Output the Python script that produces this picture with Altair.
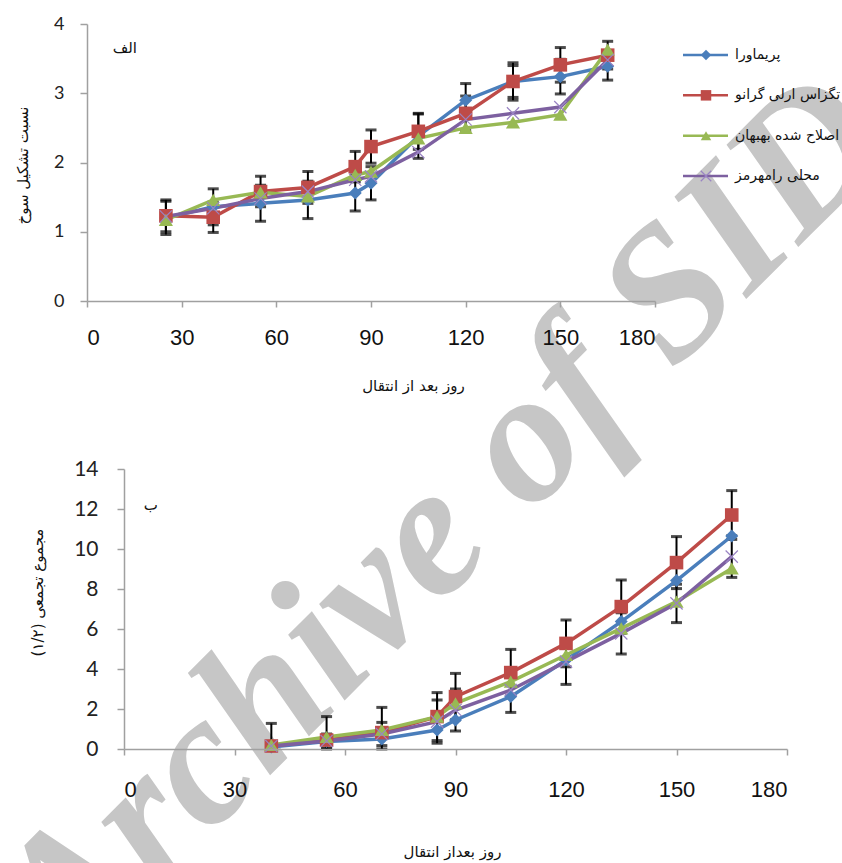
import altair as alt
import pandas as pd

# ---- series -------------------------------------------------------------
varieties = ["پریماورا", "تگزاس ارلی گرانو", "اصلاح شده بهبهان", "محلی رامهرمز"]
palette = ["#4a7ebb", "#be4b48", "#98b954", "#7d60a0"]
filled_shapes = ["diamond", "square", "triangle-up"]
x_mark_path = "M-1,-1L1,1M1,-1L-1,1"

# panel (الف): bulb formation ratio
days_a = [25, 40, 55, 70, 85, 90, 105, 120, 135, 150, 165]
primavera_a = [1.20, 1.36, 1.41, 1.46, 1.56, 1.70, 2.38, 2.90, 3.17, 3.24, 3.39]
texas_a = [1.23, 1.21, 1.58, 1.64, 1.94, 2.23, 2.45, 2.71, 3.17, 3.41, 3.55]
behbahan_a = [1.17, 1.46, 1.57, 1.51, 1.82, 1.87, 2.35, 2.50, 2.58, 2.69, 3.63]
ramhormoz_a = [1.22, 1.34, 1.48, 1.58, 1.75, 1.80, 2.15, 2.62, 2.71, 2.80, 3.48]
primavera_err_a = [0.24, 0.26, 0.26, 0.27, 0.26, 0.24, 0.32, 0.24, 0.23, 0.25, 0.20]
texas_err_a = [0.23, 0.22, 0.22, 0.23, 0.22, 0.24, 0.26, 0.25, 0.27, 0.25, 0.20]

# panel (ب): cumulative sum
days_b = [40, 55, 70, 85, 90, 105, 120, 135, 150, 165]
primavera_b = [0.10, 0.38, 0.50, 0.95, 1.45, 2.62, 4.45, 6.37, 8.42, 10.65]
texas_b = [0.15, 0.45, 0.82, 1.62, 2.62, 3.82, 5.28, 7.12, 9.32, 11.70]
behbahan_b = [0.20, 0.60, 0.95, 1.62, 2.28, 3.37, 4.70, 6.03, 7.37, 9.03]
ramhormoz_b = [0.15, 0.40, 0.75, 1.37, 1.95, 2.95, 4.37, 5.78, 7.28, 9.62]
texas_err_b = [1.13, 1.17, 1.26, 1.20, 1.16, 1.16, 1.17, 1.33, 1.30, 1.22]
ramhormoz_err_b = [0.15, 0.35, 0.58, 1.08, 1.05, 1.12, 1.14, 1.03, 0.96, 1.04]

x_ticks = [0, 30, 60, 90, 120, 150, 180]
y_ticks_a = [0, 1, 2, 3, 4]
y_ticks_b = [0, 2, 4, 6, 8, 10, 12, 14]

x_title_a = "روز بعد از انتقال"
y_title_a = "نسبت تشکیل سوخ"
x_title_b = "روز بعداز انتقال"
y_title_b = "(۱/۲) مجموع تجمعی"
panel_label_a = "الف"
panel_label_b = "ب"
watermark = "Archive of SID"

ARABIC_FONT = "DejaVu Sans"


def long_frame(days, columns):
    rows = []
    for name, vals in zip(varieties, columns):
        for d, v in zip(days, vals):
            rows.append({"day": d, "value": v, "variety": name})
    return pd.DataFrame(rows)


def error_frames(days, pairs, floor):
    bars, caps = [], []
    for vals, errs in pairs:
        for d, v, e in zip(days, vals, errs):
            lo, hi = max(floor, v - e), v + e
            bars.append({"day": d, "lo": lo, "hi": hi})
            caps.append({"day": d, "cap": lo})
            caps.append({"day": d, "cap": hi})
    return pd.DataFrame(bars), pd.DataFrame(caps)


color_enc = alt.Color("variety:N", scale=alt.Scale(domain=varieties, range=palette), legend=None)


def panel(df, bars, caps, note, x_range, y_domain, y_range, y_ticks,
          x_offset, y_offset, x_title, y_title, x_title_pos, y_title_pos,
          y_label_size, x_label_pad, y_label_pad):
    x_scale = alt.Scale(domain=[0, 180], range=x_range, nice=False, zero=False)
    y_scale = alt.Scale(domain=y_domain, range=y_range, nice=False, zero=False)
    x_axis = alt.Axis(
        orient="bottom", offset=x_offset, values=x_ticks, grid=False,
        tickSize=6, labelPadding=x_label_pad, labelFont="Liberation Sans",
        labelFontSize=22, labelColor="#111", title=x_title,
        titleFont=ARABIC_FONT, titleFontSize=15, titleFontWeight="normal",
        titleX=x_title_pos[0], titleY=x_title_pos[1], titleAlign="center",
        titleBaseline="middle", titleColor="#111", zindex=1,
    )
    y_axis = alt.Axis(
        orient="left", offset=y_offset, values=y_ticks, grid=False,
        tickSize=7, labelPadding=y_label_pad, labelFont="Lato",
        labelFontSize=y_label_size, labelColor="#222", title=y_title,
        titleFont=ARABIC_FONT, titleFontSize=15, titleFontWeight="normal",
        titleX=y_title_pos[0], titleY=y_title_pos[1], titleAngle=270,
        titleAlign="center", titleBaseline="middle", titleColor="#111", zindex=1,
    )

    def X():
        return alt.X("day:Q", scale=x_scale, axis=x_axis)

    def Y(field):
        return alt.Y(field, scale=y_scale, axis=y_axis)

    rules = alt.Chart(bars).mark_rule(color="#000", strokeWidth=2).encode(
        x=X(), y=Y("lo:Q"), y2="hi:Q")
    ticks = alt.Chart(caps).mark_tick(
        orient="horizontal", color="#000", size=11, thickness=3).encode(
        x=X(), y=Y("cap:Q"))
    lines = alt.Chart(df).mark_line(strokeWidth=3.5).encode(
        x=X(), y=Y("value:Q"), color=color_enc, detail="variety:N")
    solid = alt.Chart(df).transform_filter(
        alt.FieldOneOfPredicate(field="variety", oneOf=varieties[:3])
    ).mark_point(filled=True, opacity=1).encode(
        x=X(), y=Y("value:Q"), color=color_enc,
        shape=alt.Shape("variety:N", scale=alt.Scale(domain=varieties[:3], range=filled_shapes), legend=None),
        size=alt.Size("variety:N", scale=alt.Scale(domain=varieties[:3], range=[170, 200, 190]), legend=None),
    )
    crosses = alt.Chart(df).transform_filter(
        alt.FieldEqualPredicate(field="variety", equal=varieties[3])
    ).mark_point(shape=x_mark_path, filled=False, size=150, strokeWidth=1.2,
                 color="#9a84c4", opacity=1).encode(x=X(), y=Y("value:Q"))
    label = alt.Chart(note).mark_text(
        font=ARABIC_FONT, fontSize=15, color="#111").encode(
        x=X(), y=Y("value:Q"), text="text:N")
    return alt.layer(rules, ticks, lines, solid, crosses, label)


df_a = long_frame(days_a, [primavera_a, texas_a, behbahan_a, ramhormoz_a])
bars_a, caps_a = error_frames(days_a, [(texas_a, texas_err_a), (primavera_a, primavera_err_a)], 0)
df_b = long_frame(days_b, [primavera_b, texas_b, behbahan_b, ramhormoz_b])
bars_b, caps_b = error_frames(days_b, [(texas_b, texas_err_b), (ramhormoz_b, ramhormoz_err_b)], 0)

note_a = pd.DataFrame({"day": [12], "value": [3.65], "text": [panel_label_a]})
note_b = pd.DataFrame({"day": [7.3], "value": [12.2], "text": [panel_label_b]})

top = panel(df_a, bars_a, caps_a, note_a,
            x_range=[87, 655], y_domain=[0, 4], y_range=[301, 24], y_ticks=y_ticks_a,
            x_offset=301 - 863, y_offset=-87, x_title=x_title_a, y_title=y_title_a,
            x_title_pos=(413, 84), y_title_pos=(-65, 165), y_label_size=18,
            x_label_pad=20, y_label_pad=16)

bottom = panel(df_b, bars_b, caps_b, note_b,
               x_range=[124, 787], y_domain=[0, 14], y_range=[749, 469], y_ticks=y_ticks_b,
               x_offset=749 - 863, y_offset=-124, x_title=x_title_b, y_title=y_title_b,
               x_title_pos=(452, 102), y_title_pos=(-87, 592), y_label_size=21,
               x_label_pad=24, y_label_pad=19)

# ---- key for panel (الف) -------------------------------------------------
key_df = pd.DataFrame({"variety": varieties})
key_y = alt.Y("variety:N", scale=alt.Scale(type="point", domain=varieties, range=[55, 176], padding=0), axis=None)
key_lines = alt.Chart(key_df).mark_rule(strokeWidth=2.5).encode(
    x=alt.value(683), x2=alt.value(728), y=key_y, color=color_enc)
key_solid = alt.Chart(key_df).transform_filter(
    alt.FieldOneOfPredicate(field="variety", oneOf=varieties[:3])
).mark_point(filled=True, opacity=1, size=110).encode(
    x=alt.value(706), y=key_y, color=color_enc,
    shape=alt.Shape("variety:N", scale=alt.Scale(domain=varieties[:3], range=filled_shapes), legend=None))
key_cross = alt.Chart(key_df).transform_filter(
    alt.FieldEqualPredicate(field="variety", equal=varieties[3])
).mark_point(shape=x_mark_path, filled=False, size=110, strokeWidth=1.2,
             color="#9a84c4", opacity=1).encode(x=alt.value(706), y=key_y)
key_text = alt.Chart(key_df).mark_text(
    align="left", baseline="middle", font=ARABIC_FONT, fontSize=14, color="#111").encode(
    x=alt.value(735), y=key_y, text="variety:N")
key = alt.layer(key_lines, key_solid, key_cross, key_text)

# ---- background watermark --------------------------------------------------
wm = alt.Chart(pd.DataFrame({"text": [watermark]})).mark_text(
    font="Liberation Serif", fontStyle="italic", fontWeight="bold", fontSize=188,
    color="#c6c6c6", angle=315, align="center", baseline="middle",
).encode(x=alt.value(442), y=alt.value(524), text="text:N")

chart = alt.layer(wm, top, bottom, key).resolve_scale(
    x="independent", y="independent", color="independent",
    shape="independent", size="independent",
).properties(
    width=842, height=863, padding=0,
    autosize=alt.AutoSizeParams(type="none"),
).configure_view(stroke=None).configure_axis(
    domainColor="#a0a0a0", tickColor="#a0a0a0", domainWidth=1.5, tickWidth=1.5,
)

chart.save("out.html", embed_options={"renderer": "svg", "actions": False})
